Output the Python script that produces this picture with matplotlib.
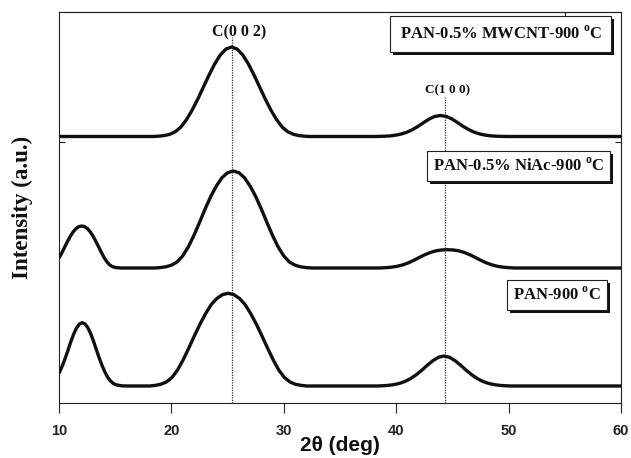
import matplotlib
matplotlib.use('Agg')
import matplotlib.pyplot as plt
import matplotlib.patheffects as pe

plt.rcParams['mathtext.fontset'] = 'custom'
plt.rcParams['mathtext.rm'] = 'Liberation Serif:bold'
plt.rcParams['mathtext.bf'] = 'Liberation Serif:bold'
plt.rcParams['font.family'] = ['Liberation Sans', 'DejaVu Sans']

# ---------------- data ----------------
# Top trace: PAN-0.5% MWCNT-900 oC
mwcnt_x = [10.0,
           18.35, 18.85, 19.35, 19.85, 20.35, 20.85, 21.35, 21.85, 22.35, 22.85, 23.35, 23.85,
           24.35, 24.85, 25.35, 25.85, 26.35, 26.85, 27.35, 27.85, 28.35, 28.85, 29.35, 29.85,
           30.35, 30.85, 31.35, 31.85, 32.35,
           37.95, 38.45, 38.95, 39.45, 39.95, 40.45, 40.95, 41.45, 41.95, 42.45, 42.95, 43.45,
           43.95, 44.45, 44.95, 45.45, 45.95, 46.45, 46.95, 47.45, 47.95, 48.45, 48.95, 49.45,
           49.95, 60.0]
mwcnt_y = [266.5,
           266.5, 266.8, 267.4, 268.7, 271.3, 276.0, 283.5, 293.0, 304.0, 316.0, 328.0, 339.0,
           348.0, 353.9, 356.0, 353.9, 348.0, 339.0, 328.0, 316.0, 304.0, 293.0, 283.5, 276.0,
           271.3, 268.7, 267.4, 266.8, 266.5,
           266.5, 266.6, 266.75, 267.1, 267.8, 269.0, 270.8, 273.4, 276.7, 280.5, 284.1, 286.6,
           287.5, 286.6, 284.1, 280.5, 276.7, 273.4, 270.8, 269.0, 267.8, 267.1, 266.75, 266.6,
           266.5, 266.5]

# Middle trace: PAN-0.5% NiAc-900 oC
niac_x = [10.0, 10.27, 10.52, 10.77, 11.02, 11.27, 11.52, 11.77, 12.02, 12.27, 12.52, 12.77,
          13.02, 13.27, 13.52, 13.77, 14.02, 14.27, 14.52, 14.77, 15.02, 15.52,
          18.5, 19.0, 19.5, 20.0, 20.5, 21.0, 21.5, 22.0, 22.5, 23.0, 23.5, 24.0, 24.5, 25.0,
          25.5, 26.0, 26.5, 27.0, 27.5, 28.0, 28.5, 29.0, 29.5, 30.0, 30.5, 31.0, 31.5, 32.0,
          32.5,
          38.55, 39.05, 39.55, 40.05, 40.55, 41.05, 41.55, 42.05, 42.55, 43.05, 43.55, 44.05,
          44.55, 45.05, 45.55, 46.05, 46.55, 47.05, 47.55, 48.05, 48.55, 49.05, 49.55, 50.05,
          50.55, 60.0]
niac_y = [145.0, 150.5, 156.3, 161.8, 167.0, 171.3, 174.5, 176.4, 177.0, 176.4, 174.5, 171.3,
          167.0, 161.8, 156.3, 150.5, 145.3, 141.0, 138.0, 136.3, 135.5, 135.0,
          135.0, 135.4, 136.2, 137.8, 141.0, 147.0, 156.0, 167.5, 180.5, 194.0, 206.5, 217.0,
          225.3, 230.3, 232.0, 230.3, 225.3, 217.0, 206.5, 194.0, 180.5, 167.5, 156.0, 147.0,
          141.0, 137.8, 136.2, 135.4, 135.0,
          135.0, 135.3, 135.8, 136.6, 138.0, 140.0, 142.6, 145.5, 148.3, 150.6, 152.2, 153.05,
          153.3, 153.05, 152.2, 150.6, 148.3, 145.5, 142.6, 140.0, 138.0, 136.6, 135.8, 135.3,
          135.0, 135.0]

# Bottom trace: PAN-900 oC
pan_x = [10.0, 10.32, 10.57, 10.82, 11.07, 11.32, 11.57, 11.82, 12.07, 12.32, 12.57, 12.82,
         13.07, 13.32, 13.57, 13.82, 14.07, 14.32, 14.57, 14.82, 15.07, 15.57, 16.07,
         18.05, 18.55, 19.05, 19.55, 20.05, 20.55, 21.05, 21.55, 22.05, 22.55, 23.05, 23.55,
         24.05, 24.55, 25.05, 25.55, 26.05, 26.55, 27.05, 27.55, 28.05, 28.55, 29.05, 29.55,
         30.05, 30.55, 31.05, 31.55, 32.05,
         38.25, 38.75, 39.25, 39.75, 40.25, 40.75, 41.25, 41.75, 42.25, 42.75, 43.25, 43.75,
         44.25, 44.75, 45.25, 45.75, 46.25, 46.75, 47.25, 47.75, 48.25, 48.75, 49.25, 49.75,
         50.25, 60.0]
pan_y = [29.6, 37.8, 45.3, 53.5, 61.8, 69.3, 75.3, 79.0, 80.3, 79.0, 75.3, 69.3,
         61.8, 53.5, 45.3, 37.8, 31.2, 26.0, 22.2, 19.7, 18.2, 17.2, 17.0,
         17.0, 17.6, 18.7, 21.0, 25.5, 33.0, 43.3, 55.0, 67.3, 79.0, 89.5, 98.5,
         104.6, 108.4, 109.7, 108.4, 104.6, 98.5, 89.5, 79.0, 67.3, 55.0, 43.3, 33.0,
         25.5, 21.0, 18.7, 17.6, 17.0,
         17.0, 17.2, 17.6, 18.3, 19.5, 21.4, 24.2, 28.0, 32.5, 37.6, 42.2, 45.7,
         47.0, 45.7, 42.2, 37.6, 32.5, 28.0, 24.2, 21.4, 19.5, 18.3, 17.6, 17.2,
         17.0, 17.0]

series_x = [mwcnt_x, niac_x, pan_x]
series_y = [mwcnt_y, niac_y, pan_y]
series_names = ['PAN-0.5% MWCNT-900 $^{\\mathbf{o}}$C',
                'PAN-0.5% NiAc-900 $^{\\mathbf{o}}$C',
                'PAN-900 $^{\\mathbf{o}}$C']
label_pos = [(49.3, 369), (50.88, 237), (54.3, 108)]
label_pads = [0.55, 0.38, 0.38]

peak_positions = [25.4, 44.3]
peak_line_tops = [366, 306]
peak_labels = ['C(0 0 2)', 'C(1 0 0)']
peak_label_pos = [(26.05, 371), (44.56, 313)]
peak_label_sizes = [11.5, 9.5]

xticks = [10, 20, 30, 40, 50, 60]

# ---------------- figure ----------------
fig = plt.figure(figsize=(6.31, 4.58), dpi=100)
ax = fig.add_axes([59 / 631, 1 - 403 / 458, 562 / 631, 391 / 458])

for xs, ys in zip(series_x, series_y):
    ax.plot(xs, ys, color='#101010', lw=2.4, solid_joinstyle='round',
            solid_capstyle='butt', zorder=3)

ax.vlines(peak_positions, 0, peak_line_tops, colors='#333333', linestyles=(0, (1, 1)),
          lw=0.9, zorder=2)

for txt, (px, py), fs in zip(peak_labels, peak_label_pos, peak_label_sizes):
    ax.text(px, py, txt, ha='center', va='center', fontsize=fs,
            family='Liberation Serif', weight='bold', color='#111111', zorder=4)

for txt, (lx, ly), pad in zip(series_names, label_pos, label_pads):
    t = ax.text(lx, ly, txt, ha='center', va='center', fontsize=12,
                family='Liberation Serif', weight='bold', color='#111111', zorder=5,
                bbox=dict(boxstyle='square,pad=%.2f' % pad, fc='white', ec='#222222',
                          lw=0.8))
    t.get_bbox_patch().set_path_effects([
        pe.SimplePatchShadow(offset=(2.2, -2.2), shadow_rgbFace='#111111', alpha=1.0),
        pe.Normal()])

ax.set_xlim(10, 60)
ax.set_ylim(0, 391)
ax.set_xticks(xticks)
ax.set_xticklabels([str(v) for v in xticks])
ax.tick_params(axis='x', direction='out', length=7, width=0.8, pad=8,
               labelsize=10.5, colors='#222222')
for lab in ax.get_xticklabels():
    lab.set_fontweight('bold')

ax.set_yticks([261.5])
ax.tick_params(axis='y', direction='in', length=4, width=0.8, left=True, right=True,
               labelleft=False, colors='#222222')

sec = ax.secondary_xaxis('top')
sec.set_xticks([55])
sec.tick_params(direction='in', length=4, width=0.8, labeltop=False, colors='#222222')
sec.spines['top'].set_linewidth(0.8)
sec.spines['top'].set_color('#222222')

for sp in ax.spines.values():
    sp.set_linewidth(0.8)
    sp.set_color('#222222')

ax.set_xlabel('2θ (deg)', fontsize=15, weight='bold', color='#111111')
ax.xaxis.set_label_coords(0.5, -(436 - 403) / 391)
ax.set_ylabel('Intensity (a.u.)', fontsize=16.5, family='Liberation Serif',
              weight='bold', color='#111111')
ax.yaxis.set_label_coords(-(59 - 33) / 562, 0.5)

fig.savefig('out.png', dpi=100)
